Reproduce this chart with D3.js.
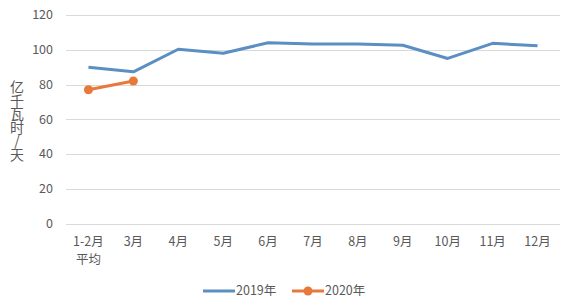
<!DOCTYPE html>
<html>
<head>
<meta charset="utf-8">
<script src="https://cdn.jsdelivr.net/npm/d3@7"></script>
<style>
	body { margin: 0; background: #fff; }
	text { font-family: "Noto Sans CJK SC", "Noto Sans", sans-serif; fill: #595959; }
</style>
</head>
<body>
<div id="chart"></div>
<script>

// categories and series
var months = ["1-2月|平均", "3月", "4月", "5月", "6月", "7月", "8月", "9月", "10月", "11月", "12月"];
var values2019 = [89.9, 87.3, 100.3, 98.0, 104.0, 103.3, 103.3, 102.6, 95.0, 103.7, 102.3];
var values2020 = [77.0, 82.0];
var yticks = [0, 20, 40, 60, 80, 100, 120];
var yTitle = "亿千瓦时/天";

// margins
var margin = {top: 15, bottom: 80, left: 66, right: 20},
	width = 580,
	height = 303;

var svg = d3.select("#chart")
	.append("svg")
	.attr("width", width)
	.attr("height", height);

var x = d3.scaleBand()
	.domain(months)
	.range([margin.left, 560]);

var y = d3.scaleLinear()
	.domain([0, 120])
	.range([223.5, 15]);

// gridlines
svg.append("g")
	.selectAll("line")
	.data(yticks)
	.enter()
	.append("line")
	.attr("x1", margin.left)
	.attr("x2", 560)
	.attr("y1", function(d){ return Math.round(y(d)) + 0.5; })
	.attr("y2", function(d){ return Math.round(y(d)) + 0.5; })
	.attr("stroke", "#d9d9d9")
	.attr("stroke-width", 1);

// y tick labels
svg.append("g")
	.selectAll("text")
	.data(yticks)
	.enter()
	.append("text")
	.attr("x", 53)
	.attr("y", function(d){ return y(d); })
	.attr("dy", "0.35em")
	.attr("text-anchor", "end")
	.style("font-size", "12.5px")
	.text(function(d){ return d; });

// x labels
var xlab = svg.append("g")
	.selectAll("text")
	.data(months)
	.enter()
	.append("text")
	.attr("x", function(d){ return x(d) + x.bandwidth() / 2; })
	.attr("y", 246)
	.attr("text-anchor", "middle")
	.style("font-size", "12.5px");

xlab.selectAll("tspan")
	.data(function(d){ return d.split("|"); })
	.enter()
	.append("tspan")
	.attr("x", function(){ return d3.select(this.parentNode).attr("x"); })
	.attr("dy", function(d, i){ return i == 0 ? 0 : 18; })
	.text(function(d){ return d; });

// y title, written vertically
svg.append("text")
	.attr("x", 17)
	.attr("y", 80)
	.style("writing-mode", "vertical-rl")
	.style("text-orientation", "upright")
	.style("font-size", "14px")
	.style("letter-spacing", "-0.5px")
	.text(yTitle);

var line = d3.line()
	.x(function(d, i){ return x(months[i]) + x.bandwidth() / 2; })
	.y(function(d){ return y(d); });

// 2019 line
svg.append("path")
	.datum(values2019)
	.attr("d", line)
	.attr("fill", "none")
	.attr("stroke", "#5b8fc3")
	.attr("stroke-width", 3)
	.attr("stroke-linejoin", "round");

// 2020 line with markers
svg.append("path")
	.datum(values2020)
	.attr("d", line)
	.attr("fill", "none")
	.attr("stroke", "#e8793a")
	.attr("stroke-width", 3);

svg.append("g")
	.selectAll("circle")
	.data(values2020)
	.enter()
	.append("circle")
	.attr("cx", function(d, i){ return x(months[i]) + x.bandwidth() / 2; })
	.attr("cy", function(d){ return y(d); })
	.attr("r", 4.5)
	.attr("fill", "#e8793a");

// legend
var legend = svg.append("g");

legend.append("line")
	.attr("x1", 203).attr("x2", 235)
	.attr("y1", 291).attr("y2", 291)
	.attr("stroke", "#5b8fc3")
	.attr("stroke-width", 3);

legend.append("text")
	.attr("x", 236).attr("y", 291)
	.attr("dy", "0.35em")
	.style("font-size", "12.5px")
	.text("2019年");

legend.append("line")
	.attr("x1", 292).attr("x2", 324)
	.attr("y1", 291).attr("y2", 291)
	.attr("stroke", "#e8793a")
	.attr("stroke-width", 3);

legend.append("circle")
	.attr("cx", 308).attr("cy", 291)
	.attr("r", 4.5)
	.attr("fill", "#e8793a");

legend.append("text")
	.attr("x", 325).attr("y", 291)
	.attr("dy", "0.35em")
	.style("font-size", "12.5px")
	.text("2020年");

</script>
</body>
</html>
